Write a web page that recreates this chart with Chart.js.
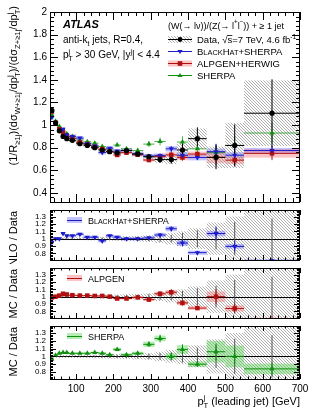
<!DOCTYPE html>
<html lang="en">
<head>
<meta charset="UTF-8">
<title>W/Z + jets ratio vs leading jet pT</title>
<script src="https://cdn.jsdelivr.net/npm/chart.js@4.4.0/dist/chart.umd.min.js"></script>
<style>
  body { margin: 0; background: #fff; }
  #wrap { position: relative; width: 316px; height: 413px; }
  #wrap canvas { position: absolute; left: 0; }
</style>
</head>
<body>
<div id="wrap">
  <canvas id="cMain" width="316" height="206" style="top:0px"></canvas>
  <canvas id="cNlo" width="316" height="58" style="top:206px"></canvas>
  <canvas id="cAlp" width="316" height="58" style="top:264px"></canvas>
  <canvas id="cShe" width="316" height="91" style="top:322px"></canvas>
</div>
<script>
const FONT = '"Liberation Sans", Arial, Helvetica, sans-serif';

// leading jet pT bins [GeV]
const ptCenters = [35, 45, 55, 65, 75, 90, 110, 130, 150, 170, 190, 210, 235, 265, 295, 325, 355, 385, 425, 475, 525, 625];
const ptLow     = [30, 40, 50, 60, 70, 80, 100, 120, 140, 160, 180, 200, 220, 250, 280, 310, 340, 370, 400, 450, 500, 550];
const ptHigh    = [40, 50, 60, 70, 80, 100, 120, 140, 160, 180, 200, 220, 250, 280, 310, 340, 370, 400, 450, 500, 550, 700];

// data
const dataVal  = [1.13, 1.02, 0.95, 0.90, 0.88, 0.865, 0.835, 0.82, 0.80, 0.78, 0.765, 0.755, 0.775, 0.745, 0.72, 0.695, 0.695, 0.78, 0.88, 0.715, 0.82, 1.105];
const dataStat = [0.006, 0.006, 0.006, 0.006, 0.007, 0.007, 0.008, 0.009, 0.010, 0.012, 0.014, 0.016, 0.016, 0.02, 0.025, 0.03, 0.035, 0.06, 0.10, 0.105, 0.185, 0.30];
const dataSys  = [0.02, 0.02, 0.018, 0.017, 0.017, 0.017, 0.017, 0.016, 0.016, 0.016, 0.017, 0.018, 0.02, 0.022, 0.025, 0.03, 0.04, 0.06, 0.09, 0.095, 0.20, 0.29];
const dataTotRel = [0.025, 0.02, 0.02, 0.02, 0.02, 0.02, 0.02, 0.022, 0.024, 0.026, 0.028, 0.03, 0.033, 0.038, 0.045, 0.06, 0.08, 0.1, 0.14, 0.22, 0.3, 0.45];

// BlackHat+Sherpa (NLO)
const nloMain  = [1.07, 1.02, 0.95, 0.963, 0.915, 0.90, 0.885, 0.836, 0.816, 0.757, 0.796, 0.77, 0.775, 0.745, 0.727, 0.73, 0.79, 0.733, 0.713, 0.765, 0.734, 0.775];
const nloRatio = [0.95, 1.0, 1.0, 1.07, 1.04, 1.04, 1.06, 1.02, 1.02, 0.97, 1.04, 1.02, 1.0, 1.0, 1.01, 1.05, 1.135, 0.94, 0.81, 1.07, 0.895, 0.70];
const nloBand  = [0.02, 0.02, 0.02, 0.02, 0.02, 0.02, 0.02, 0.02, 0.02, 0.022, 0.022, 0.024, 0.024, 0.025, 0.025, 0.028, 0.03, 0.04, 0.035, 0.035, 0.035, 0.03];
const nloErr   = [0.01, 0.008, 0.008, 0.008, 0.008, 0.008, 0.01, 0.01, 0.01, 0.012, 0.012, 0.014, 0.015, 0.015, 0.02, 0.025, 0.03, 0.05, 0.03, 0.09, 0.08, 0.05];

// Alpgen+Herwig
const alpMain  = [1.12, 1.02, 0.964, 0.936, 0.906, 0.882, 0.848, 0.832, 0.808, 0.788, 0.765, 0.736, 0.756, 0.738, 0.691, 0.723, 0.737, 0.714, 0.744, 0.715, 0.69, 0.75];
const alpRatio = [0.99, 1.0, 1.015, 1.04, 1.03, 1.02, 1.015, 1.015, 1.01, 1.01, 1.0, 0.975, 0.975, 0.99, 0.96, 1.04, 1.06, 0.915, 0.845, 1.0, 0.84, 0.68];
const alpBand  = [0.012, 0.012, 0.012, 0.012, 0.012, 0.012, 0.012, 0.012, 0.014, 0.014, 0.014, 0.016, 0.016, 0.018, 0.02, 0.025, 0.03, 0.035, 0.03, 0.07, 0.05, 0.05];
const alpErr   = [0.008, 0.008, 0.008, 0.008, 0.008, 0.008, 0.01, 0.01, 0.01, 0.012, 0.012, 0.014, 0.015, 0.015, 0.02, 0.03, 0.04, 0.04, 0.03, 0.1, 0.08, 0.08];

// Sherpa
const sheMain  = [1.09, 1.035, 0.988, 0.945, 0.924, 0.90, 0.868, 0.853, 0.84, 0.811, 0.78, 0.823, 0.79, 0.775, 0.832, 0.855, 0.695, 0.85, 0.79, 0.758, 0.82, 0.93];
const sheRatio = [0.965, 1.015, 1.04, 1.05, 1.05, 1.04, 1.04, 1.04, 1.05, 1.04, 1.02, 1.09, 1.02, 1.04, 1.155, 1.23, 1.0, 1.09, 0.90, 1.06, 1.0, 0.84];
const sheBand  = [0.01, 0.01, 0.01, 0.01, 0.01, 0.01, 0.01, 0.012, 0.012, 0.014, 0.015, 0.02, 0.02, 0.02, 0.03, 0.03, 0.04, 0.05, 0.04, 0.13, 0.14, 0.08];
const sheErr   = [0.01, 0.008, 0.008, 0.008, 0.008, 0.008, 0.01, 0.01, 0.01, 0.012, 0.012, 0.015, 0.015, 0.015, 0.03, 0.04, 0.05, 0.06, 0.04, 0.1, 0.1, 0.1];

// axis ticks
const xTickVals = [100, 200, 300, 400, 500, 600, 700];
const mainTickVals = [0.4, 0.6, 0.8, 1, 1.2, 1.4, 1.6, 1.8, 2];
const ratioTickVals = [0.8, 0.9, 1, 1.1, 1.2, 1.3];

const BLUE = '#1c1cc8', BLUE_BAND = 'rgba(80,80,255,0.35)';
const RED = '#b01010', RED_BAND = 'rgba(245,90,90,0.35)';
const GREEN = '#109010', GREEN_BAND = 'rgba(70,210,70,0.4)';

function hatchPattern(ctx) {
    // "\\\\" style hatching, like ROOT fill style 3354
    const c = document.createElement('canvas');
    c.width = 3; c.height = 3;
    const g = c.getContext('2d');
    g.strokeStyle = '#8c8c8c';
    g.lineWidth = 0.7;
    g.beginPath();
    g.moveTo(0, 0); g.lineTo(3, 3);
    g.moveTo(-1, 2); g.lineTo(1, 4);
    g.moveTo(2, -1); g.lineTo(4, 1);
    g.stroke();
    return ctx.createPattern(c, 'repeat');
}

// text with sub/superscripts: parts are strings or [text, kind]
function rich(ctx, parts, x, y, size, opts = {}) {
    const style = opts.style || '';
    const small = size * 0.7;
    const f = s => (style + ' ' + s + 'px ' + FONT).trim();
    const items = parts.map(p => typeof p === 'string' ? { t: p, k: 'n' } : { t: p[0], k: p[1] });
    let total = 0;
    items.forEach(it => {
        if (it.k === 'ss') {
            ctx.font = f(small);
            it.w = Math.max(ctx.measureText(it.t[0]).width, ctx.measureText(it.t[1]).width);
        } else {
            ctx.font = f(it.k === 'sc' ? size * 0.78 : (it.k === 'sub' || it.k === 'sup') ? small : size);
            it.w = ctx.measureText(it.t).width;
        }
        total += it.w;
    });
    let cx = opts.align === 'right' ? x - total : opts.align === 'center' ? x - total / 2 : x;
    ctx.textAlign = 'left';
    ctx.textBaseline = 'alphabetic';
    items.forEach(it => {
        if (it.k === 'n') { ctx.font = f(size); ctx.fillText(it.t, cx, y); }
        else if (it.k === 'sub') { ctx.font = f(small); ctx.fillText(it.t, cx, y + size * 0.28); }
        else if (it.k === 'sup') { ctx.font = f(small); ctx.fillText(it.t, cx, y - size * 0.45); }
        else if (it.k === 'ss') {
            ctx.font = f(small);
            ctx.fillText(it.t[0], cx, y + size * 0.28);
            ctx.fillText(it.t[1], cx, y - size * 0.45);
        }
        else if (it.k === 'sc') { ctx.font = f(size * 0.78); ctx.fillText(it.t, cx, y); }
        else if (it.k === 'ol') {
            ctx.font = f(size); ctx.fillText(it.t, cx, y);
            ctx.fillRect(cx - 0.5, y - size * 0.82, it.w + 0.5, 0.8);
        }
        cx += it.w;
    });
    return total;
}

function richUp(ctx, parts, x, y, size, opts) {
    ctx.save();
    ctx.translate(x, y);
    ctx.rotate(-Math.PI / 2);
    rich(ctx, parts, 0, 0, size, opts);
    ctx.restore();
}

function hline(ctx, x0, x1, y) {
    ctx.beginPath(); ctx.moveTo(x0, y); ctx.lineTo(x1, y); ctx.stroke();
}
function vline(ctx, x, y0, y1) {
    ctx.beginPath(); ctx.moveTo(x, y0); ctx.lineTo(x, y1); ctx.stroke();
}

// MC series: band boxes, horizontal bin line, vertical error
function drawBands(ctx, xs, ys, vals, band, fill) {
    ctx.fillStyle = fill;
    vals.forEach((v, i) => {
        const x0 = xs.getPixelForValue(ptLow[i]), x1 = xs.getPixelForValue(ptHigh[i]);
        const y0 = ys.getPixelForValue(v * (1 + band[i])), y1 = ys.getPixelForValue(v * (1 - band[i]));
        ctx.fillRect(x0, y0, x1 - x0, y1 - y0);
    });
}
function drawBars(ctx, xs, ys, vals, err, color, width) {
    ctx.strokeStyle = color;
    ctx.lineWidth = width || 1;
    vals.forEach((v, i) => {
        const x0 = xs.getPixelForValue(ptLow[i]), x1 = xs.getPixelForValue(ptHigh[i]);
        const xc = xs.getPixelForValue(ptCenters[i]);
        const y = ys.getPixelForValue(v);
        hline(ctx, x0, x1, y);
        vline(ctx, xc, ys.getPixelForValue(v + err[i]), ys.getPixelForValue(v - err[i]));
    });
}

const panels = {
    cMain: { kind: 'main', yMin: 0.32, yMax: 2, ticks: mainTickVals, minor: 0.04, padTop: 12, fontSize: 10, major: 8, minorLen: 4, xMajor: 8, xMinor: 4 },
    cNlo: { kind: 'ratio', ratio: nloRatio, band: nloBand, err: nloErr, color: BLUE, fill: BLUE_BAND, marker: 'down',
            title: ['NLO / Data'], legend: ['B', ['LACK', 'sc'], 'H', ['AT', 'sc'], '+SHERPA'] },
    cAlp: { kind: 'ratio', ratio: alpRatio, band: alpBand, err: alpErr, color: RED, fill: RED_BAND, marker: 'rect',
            title: ['MC / Data'], legend: ['ALPGEN'] },
    cShe: { kind: 'ratio', ratio: sheRatio, band: sheBand, err: sheErr, color: GREEN, fill: GREEN_BAND, marker: 'up',
            title: ['MC / Data'], legend: ['SHERPA'], bottom: true }
};
['cNlo', 'cAlp', 'cShe'].forEach(id => Object.assign(panels[id], {
    yMin: 0.71, yMax: 1.39, ticks: ratioTickVals, minor: 0.02, padTop: 0, fontSize: 8, major: 6, minorLen: 3, xMajor: 5, xMinor: 2.5
}));

function drawTicks(ctx, chart, P) {
    const { left, right, top, bottom } = chart.chartArea;
    const xs = chart.scales.x, ys = chart.scales.y;
    ctx.strokeStyle = '#000';
    ctx.lineWidth = 1;
    for (let v = 40; v <= 700; v += 20) {
        const x = Math.round(xs.getPixelForValue(v)) + 0.5;
        const len = v % 100 === 0 ? P.xMajor : P.xMinor;
        vline(ctx, x, bottom, bottom - len);
        vline(ctx, x, top, top + len);
    }
    const n0 = Math.ceil(P.yMin / P.minor - 1e-6), n1 = Math.floor(P.yMax / P.minor + 1e-6);
    for (let n = n0; n <= n1; n++) {
        const v = n * P.minor;
        const isMajor = P.ticks.some(t => Math.abs(t - v) < 1e-6);
        const len = isMajor ? P.major : P.minorLen;
        const y = Math.round(ys.getPixelForValue(v)) + 0.5;
        hline(ctx, left, left + len, y);
        hline(ctx, right, right - len, y);
    }
    ctx.strokeRect(left + 0.5, top + 0.5, right - left - 1, bottom - top);
}

const deco = {
    id: 'deco',
    beforeDatasetsDraw(chart) {
        const P = panels[chart.canvas.id];
        const ctx = chart.ctx, xs = chart.scales.x, ys = chart.scales.y;
        const { left, right, top, bottom } = chart.chartArea;
        const hatch = hatchPattern(ctx);
        ctx.save();
        ctx.beginPath();
        ctx.rect(left, top, right - left, bottom - top);
        ctx.clip();
        if (P.kind === 'main') {
            drawBands(ctx, xs, ys, nloMain, nloBand, BLUE_BAND);
            drawBands(ctx, xs, ys, alpMain, alpBand, RED_BAND);
            // data systematic (hatched)
            ctx.fillStyle = hatch;
            dataVal.forEach((v, i) => {
                const x0 = xs.getPixelForValue(ptLow[i]), x1 = xs.getPixelForValue(ptHigh[i]);
                const y0 = ys.getPixelForValue(v + dataSys[i]), y1 = ys.getPixelForValue(v - dataSys[i]);
                ctx.fillRect(x0, y0, x1 - x0, y1 - y0);
            });
            drawBars(ctx, xs, ys, sheMain, sheMain.map((v, i) => v * sheErr[i]), 'rgba(16,144,16,0.75)');
            drawBars(ctx, xs, ys, alpMain, alpMain.map((v, i) => v * alpErr[i]), RED);
            drawBars(ctx, xs, ys, nloMain, nloMain.map((v, i) => v * nloErr[i]), BLUE);
            drawBars(ctx, xs, ys, dataVal, dataStat, '#000');
        } else {
            // data total uncertainty around 1
            ctx.fillStyle = hatch;
            dataTotRel.forEach((r, i) => {
                const x0 = xs.getPixelForValue(ptLow[i]), x1 = xs.getPixelForValue(ptHigh[i]);
                const y0 = ys.getPixelForValue(1 + r), y1 = ys.getPixelForValue(1 - r);
                ctx.fillRect(x0, y0, x1 - x0, y1 - y0);
            });
            drawBands(ctx, xs, ys, P.ratio, P.band, P.fill);
            ctx.strokeStyle = '#000';
            ctx.lineWidth = 1;
            const y1 = Math.round(ys.getPixelForValue(1)) + 0.5;
            hline(ctx, left, right, y1);
            // data statistical error
            ctx.strokeStyle = '#555';
            dataVal.forEach((v, i) => {
                const x = xs.getPixelForValue(ptCenters[i]);
                const r = dataStat[i] / v;
                vline(ctx, x, ys.getPixelForValue(1 + r), ys.getPixelForValue(1 - r));
            });
            drawBars(ctx, xs, ys, P.ratio, P.ratio.map((v, i) => v * P.err[i]), P.color);
        }
        ctx.restore();
    },
    afterDraw(chart) {
        const P = panels[chart.canvas.id];
        const ctx = chart.ctx;
        const { left, top, bottom } = chart.chartArea;
        ctx.save();
        drawTicks(ctx, chart, P);
        ctx.fillStyle = '#000';
        if (P.kind === 'main') {
            rich(ctx, ['ATLAS'], 63, 28, 11, { style: 'bold italic' });
            rich(ctx, ['anti-k', ['t', 'sub'], ' jets, R=0.4,'], 63, 43, 10);
            rich(ctx, ['p', [['T', 'j'], 'ss'], ' > 30 GeV, |y', ['j', 'sup'], '| < 4.4'], 63, 58, 10);
            rich(ctx, ['(W(\u2192 l\u03bd))/(Z(\u2192 l', ['+', 'sup'], 'l', ['\u2212', 'sup'], ')) + \u2265 1 jet'], 168, 28.5, 9);
            const sx0 = 168, sx1 = 192, sxc = 180;
            // data entry
            ctx.fillStyle = hatchPattern(ctx);
            ctx.fillRect(sx0, 36, sx1 - sx0, 7);
            ctx.strokeStyle = '#000'; ctx.lineWidth = 1;
            hline(ctx, sx0, sx1, 39.5);
            ctx.fillStyle = '#000';
            ctx.beginPath(); ctx.arc(sxc, 39.5, 2.4, 0, Math.PI * 2); ctx.fill();
            rich(ctx, ['Data, \u221a', ['s', 'ol'], '=7 TeV, 4.6 fb', ['-1', 'sup']], 197, 43, 9.5);
            // BlackHat
            ctx.strokeStyle = BLUE;
            hline(ctx, sx0, sx1, 51.5);
            ctx.fillStyle = BLUE;
            ctx.beginPath(); ctx.moveTo(sxc - 2.6, 50); ctx.lineTo(sxc + 2.6, 50); ctx.lineTo(sxc, 54); ctx.closePath(); ctx.fill();
            ctx.fillStyle = '#000';
            rich(ctx, ['B', ['LACK', 'sc'], 'H', ['AT', 'sc'], '+SHERPA'], 197, 55, 9.5);
            // Alpgen
            ctx.fillStyle = RED_BAND;
            ctx.fillRect(sx0, 60.5, sx1 - sx0, 6);
            ctx.strokeStyle = RED;
            hline(ctx, sx0, sx1, 63.5);
            ctx.fillStyle = RED;
            ctx.fillRect(sxc - 2.3, 61.2, 4.6, 4.6);
            ctx.fillStyle = '#000';
            rich(ctx, ['ALPGEN+HERWIG'], 197, 67, 9.5);
            // Sherpa
            ctx.strokeStyle = GREEN;
            hline(ctx, sx0, sx1, 75.5);
            ctx.fillStyle = GREEN;
            ctx.beginPath(); ctx.moveTo(sxc - 2.6, 77); ctx.lineTo(sxc + 2.6, 77); ctx.lineTo(sxc, 73); ctx.closePath(); ctx.fill();
            ctx.fillStyle = '#000';
            rich(ctx, ['SHERPA'], 197, 79, 9.5);
            // y title
            richUp(ctx, ['(1/R', ['\u22651j', 'sub'], ')(d\u03c3', ['W+\u22651j', 'sub'], '/dp', [['T', 'j'], 'ss'],
                ')/(d\u03c3', ['Z+\u22651j', 'sub'], '/dp', [['T', 'j'], 'ss'], ')'], 17, 6, 11, { align: 'right' });
        } else {
            const ly = top + 10;
            ctx.fillStyle = P.fill;
            ctx.fillRect(67, ly - 3, 15, 6);
            ctx.strokeStyle = P.color; ctx.lineWidth = 1;
            hline(ctx, 67, 82, ly + 0.5);
            ctx.fillStyle = '#000';
            rich(ctx, P.legend, 88, ly + 3.5, 9);
            richUp(ctx, P.title, 17, top + 1, 11, { align: 'right' });
            if (P.bottom) {
                rich(ctx, ['p', [['T', 'j'], 'ss'], ' (leading jet) [GeV]'], 300, bottom + 26, 11, { align: 'right' });
            }
        }
        ctx.restore();
    }
};

function pointStyleFor(m) {
    if (m === 'rect') return { pointStyle: 'rect', pointRadius: 3.2, rotation: 0 };
    if (m === 'down') return { pointStyle: 'triangle', pointRadius: 3, rotation: 180 };
    return { pointStyle: 'triangle', pointRadius: 3, rotation: 0 };
}

function series(vals, color, marker) {
    return Object.assign({
        data: ptCenters.map((x, i) => ({ x: x, y: vals[i] })),
        backgroundColor: color, borderColor: color, borderWidth: 0, clip: 0
    }, pointStyleFor(marker));
}

function build(id) {
    const P = panels[id];
    let datasets;
    if (P.kind === 'main') {
        datasets = [
            Object.assign(series(dataVal, '#000', 'circle'), { pointStyle: 'circle', pointRadius: 2.6 }),
            series(nloMain, BLUE, 'down'),
            series(alpMain, RED, 'rect'),
            series(sheMain, GREEN, 'up')
        ];
    } else {
        datasets = [series(P.ratio, P.color, P.marker)];
    }
    new Chart(document.getElementById(id), {
        type: 'scatter',
        data: { datasets: datasets },
        options: {
            responsive: false,
            animation: false,
            devicePixelRatio: 1,
            layout: { padding: { top: P.padTop, right: 16, left: 0, bottom: 0 } },
            plugins: { legend: { display: false }, tooltip: { enabled: false } },
            scales: {
                x: {
                    type: 'linear', min: 30, max: 700,
                    display: !!P.bottom,
                    afterBuildTicks: s => { s.ticks = xTickVals.map(v => ({ value: v })); },
                    afterFit: s => {
                        s.height = P.bottom ? 34 : 0;
                        s.paddingLeft = 0; s.paddingRight = 0;
                    },
                    ticks: { font: { family: FONT, size: 10 }, color: '#000', padding: 4, maxRotation: 0, autoSkip: false },
                    grid: { display: false, drawTicks: false },
                    border: { display: false }
                },
                y: {
                    type: 'linear', min: P.yMin, max: P.yMax,
                    afterBuildTicks: s => { s.ticks = P.ticks.map(v => ({ value: v })); },
                    afterFit: s => { s.width = 50; s.paddingTop = 0; s.paddingBottom = 0; },
                    ticks: {
                        font: { family: FONT, size: P.fontSize }, color: '#000', padding: P.kind === 'main' ? 3 : 4,
                        autoSkip: false,
                        callback: v => String(Math.round(v * 100) / 100)
                    },
                    grid: { display: false, drawTicks: false },
                    border: { display: false }
                }
            }
        },
        plugins: [deco]
    });
}

Object.keys(panels).forEach(build);
</script>
</body>
</html>
